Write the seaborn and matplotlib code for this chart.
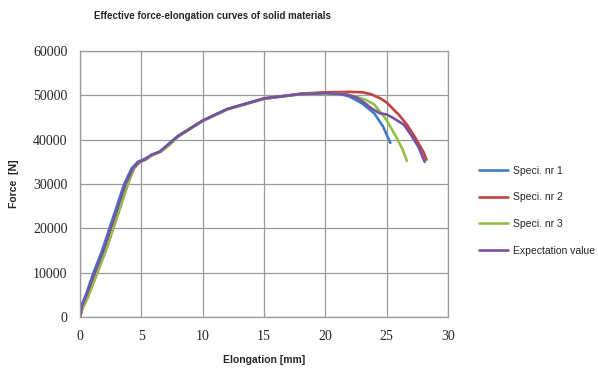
import matplotlib
matplotlib.use("Agg")
import matplotlib.pyplot as plt
import pandas as pd
import seaborn as sns

# Values (elongation in mm, force in N)
spec1_x = [0, 0.15, 0.5, 1.1, 1.8, 2.4, 3.0, 3.6, 4.2, 4.7, 5.2, 5.7, 6.0, 6.4, 7.0, 8.0, 10.0, 12.0,
           15.0, 18.0, 20.0, 21.0, 22.0, 23.0, 24.0, 24.7, 25.3]
spec1_y = [0, 2800, 5200, 10000, 15000, 20000, 25000, 30000, 33500, 35000, 35600, 36300, 36700, 37100,
           38500, 40900, 44300, 46900, 49300, 50300, 50600, 50500, 49700, 48200, 45900, 43000, 39300]

spec2_x = [0, 0.2, 0.6, 1.4, 2.1, 2.7, 3.3, 3.9, 4.4, 4.9, 5.4, 6.0, 6.6, 7.2, 8.0, 10.0, 12.0,
           15.0, 18.0, 20.0, 22.0, 23.0, 23.7, 24.5, 25.0, 26.0, 26.6, 27.3, 28.0, 28.25]
spec2_y = [0, 2000, 4300, 10000, 15000, 20000, 25000, 30000, 33600, 35000, 35700, 36700, 37400,
           38700, 40800, 44300, 46900, 49300, 50400, 50700, 50800, 50700, 50300, 49300, 48400,
           45600, 43600, 40600, 37200, 35500]

spec3_x = [0, 0.2, 0.6, 1.4, 2.1, 2.7, 3.3, 3.9, 4.4, 4.9, 5.4, 6.0, 6.6, 7.2, 8.0, 10.0, 12.0,
           15.0, 18.0, 20.0, 21.5, 22.5, 23.3, 24.0, 25.0, 25.8, 26.3, 26.65]
spec3_y = [0, 2000, 4300, 10000, 15000, 20000, 25000, 30000, 33600, 35000, 35600, 36700, 37300,
           38600, 40700, 44200, 46800, 49200, 50300, 50500, 50400, 49700, 49000, 47900, 44400,
           40500, 37800, 35200]

expect_x = [0, 0.15, 0.5, 1.2, 1.9, 2.5, 3.1, 3.7, 4.3, 4.8, 5.3, 5.8, 6.1, 6.5, 7.0, 8.0, 10.0,
            12.0, 15.0, 18.0, 20.0, 21.5, 22.5, 23.2, 23.8, 24.4, 25.0, 25.6, 26.4, 27.0, 27.6,
            28.1]
expect_y = [0, 2500, 4800, 10000, 15000, 20000, 25000, 30000, 33500, 35000, 35500, 36600, 36900,
            37300, 38500, 40800, 44300, 46900, 49300, 50300, 50500, 50300, 49600, 48300, 47000,
            46000, 45700, 44800, 43400, 41000, 38300, 35000]

series_names = ["Speci. nr 1", "Speci. nr 2", "Speci. nr 3", "Expectation value"]
series_colors = ["#3F7CC6", "#C0413D", "#93BF48", "#7552A3"]

frames = []
for name, xs, ys in zip(series_names,
                        [spec1_x, spec2_x, spec3_x, expect_x],
                        [spec1_y, spec2_y, spec3_y, expect_y]):
    frames.append(pd.DataFrame({"Elongation": xs, "Force": ys, "series": name}))
df = pd.concat(frames, ignore_index=True)

sns.set_style("white")

fig = plt.figure(figsize=(5.98, 3.70), dpi=100)
ax = fig.add_axes([0.1338, 0.143, 0.6154, 0.719])

sns.lineplot(data=df, x="Elongation", y="Force", hue="series", hue_order=series_names,
             palette=series_colors, sort=False, estimator=None, linewidth=1.9, ax=ax)

ax.set_xlim(0, 30)
ax.set_ylim(0, 60000)
ax.set_xticks(range(0, 31, 5))
ax.set_yticks(range(0, 60001, 10000))
ax.grid(True, color="#9a9a9a", linewidth=0.9)
for side in ["left", "right", "top", "bottom"]:
    ax.spines[side].set_color("#9a9a9a")
    ax.spines[side].set_linewidth(0.9)
ax.tick_params(length=0, pad=9)
for lab in ax.get_xticklabels() + ax.get_yticklabels():
    lab.set_fontfamily("Liberation Serif")
    lab.set_fontsize(10)

ax.set_xlabel("Elongation [mm]", fontsize=7.5, fontweight="bold", labelpad=9,
              family="Liberation Sans")
ax.set_ylabel("Force  [N]", fontsize=7.5, fontweight="bold", labelpad=10,
              family="Liberation Sans")

fig.text(0.158, 0.958, "Effective force-elongation curves of solid materials", fontsize=7,
         fontweight="bold", family="Liberation Sans", va="center")

handles, labels = ax.get_legend_handles_labels()
ax.legend(handles, labels, loc="center left", bbox_to_anchor=(1.06, 0.40), frameon=False,
          prop={"family": "Liberation Sans", "size": 7.5}, handlelength=2.7,
          labelspacing=1.6, handletextpad=0.5)

fig.savefig("out.png", dpi=100)
